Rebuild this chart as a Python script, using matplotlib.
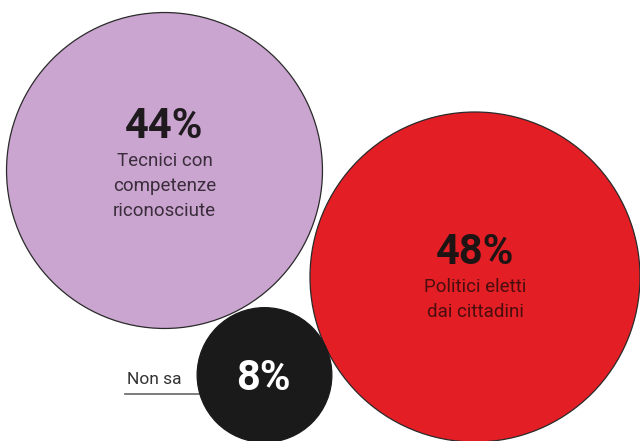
import numpy as np
import matplotlib
matplotlib.use("Agg")
import matplotlib.pyplot as plt
from matplotlib.patches import Circle

labels = ["Tecnici con\ncompetenze\nriconosciute", "Politici eletti\ndai cittadini", "Non sa"]
values = [44, 48, 8]
colors = ["#caa5d0", "#e31e25", "#1b1a1a"]
value_colors = ["#1e1a1e", "#1e1414", "#ffffff"]
label_colors = ["#3b2d3c", "#4a0e0e", "#333333"]
centers = [(164.5, 170.5), (475, 277), (264.5, 375)]

plt.rcParams['font.family'] = ['Roboto', 'DejaVu Sans']
fig = plt.figure(figsize=(6.4, 4.41), dpi=100)
ax = fig.add_axes([0, 0, 1, 1])
ax.set_xlim(0, 640)
ax.set_ylim(441, 0)
ax.set_aspect('equal')
ax.axis('off')

k = 165 / np.sqrt(max(values))
for i, (v, c, (cx, cy)) in enumerate(zip(values, colors, centers)):
    r = k * np.sqrt(v)
    ec = "#2a2a2a" if i < 2 else c
    ax.add_patch(Circle((cx, cy), r, facecolor=c, edgecolor=ec, linewidth=0.9, zorder=2 + (i == 2)))

for i in range(2):
    cx, cy = centers[i]
    ty = [127, 253][i]
    ax.text(cx, ty, f"{values[i]}%", ha='center', va='center', fontsize=30, fontweight='bold',
            color=value_colors[i], zorder=5)
    for j, line in enumerate(labels[i].split("\n")):
        ax.text(cx, ty + 34 + 25 * j, line, ha='center', va='center', fontsize=13.5,
                color=label_colors[i], zorder=5)

cx, cy = centers[2]
ax.text(cx - 1, 379, f"{values[2]}%", ha='center', va='center', fontsize=30, fontweight='bold',
        color=value_colors[2], zorder=5)
ax.text(127, 380, labels[2], ha='left', va='center', fontsize=12.5, color=label_colors[2], zorder=5)
ax.plot([125, 200], [394, 394], color="#666666", linewidth=1.2, zorder=1)

fig.savefig("out.png", dpi=100, facecolor="white")
